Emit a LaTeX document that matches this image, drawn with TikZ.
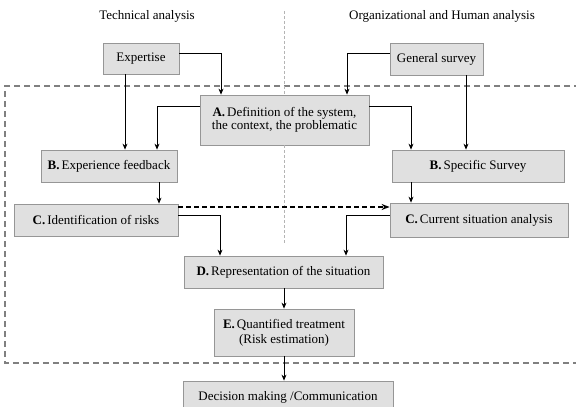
\documentclass[tikz,border=0pt]{standalone}
\usepackage{fontspec}
\setmainfont{Liberation Serif}
\usetikzlibrary{arrows.meta}
\definecolor{boxfill}{HTML}{E0E0E0}
\definecolor{boxborder}{HTML}{969696}
\definecolor{framegray}{HTML}{808080}
\definecolor{sepgray}{HTML}{B4B4B4}
\begin{document}
\begin{tikzpicture}[x=1pt,y=-1pt,
  box/.style={draw=boxborder, fill=boxfill, line width=0.8pt, inner sep=0pt, align=center, font=\fontsize{13}{13.5}\selectfont},
  title/.style={inner sep=0pt, font=\fontsize{13}{14}\selectfont},
  conn/.style={line width=0.7pt, -{Stealth[length=6pt,width=5pt]}},
  dconn/.style={line width=1.4pt, dash pattern=on 5pt off 3pt, -{Stealth[length=8pt,width=6pt]}},
  sep/.style={sepgray, line width=0.8pt, dash pattern=on 3pt off 2pt},
  frame/.style={framegray, line width=1.2pt, dash pattern=on 6pt off 4pt}
]
\useasboundingbox (0,0) rectangle (576,407);
\clip (0,0) rectangle (576,407);

% frame
\draw[frame] (590,86) -- (5,86) -- (5,363) -- (590,363);

% titles
\node[title] (t1) at (147,16) {Technical analysis};
\node[title] (t2) at (442,16) {Organizational and Human analysis};

% nodes
\node[box, minimum width=76pt, minimum height=31pt] (exp) at (141,58.5) {Expertise};
\node[box, minimum width=93pt, minimum height=32pt] (gen) at (436.5,59) {General survey};
\node[box, minimum width=169pt, minimum height=50pt] (A) at (284.5,120) {\textbf{A.}\hspace{2pt}Definition of the system,\\ the context, the problematic};
\node[box, minimum width=136pt, minimum height=32pt] (bexp) at (109,166) {\textbf{B.}\hspace{2pt}Experience feedback};
\node[box, minimum width=172pt, minimum height=32pt] (bspec) at (478,166) {\textbf{B.}\hspace{2pt}Specific Survey};
\node[box, minimum width=164pt, minimum height=32pt] (crisk) at (96,220) {\textbf{C.}\hspace{2pt}Identification of risks};
\node[box, minimum width=178pt, minimum height=34pt] (ccur) at (479,220) {\textbf{C.}\hspace{2pt}Current situation analysis};
\node[box, minimum width=199pt, minimum height=32pt] (D) at (283.5,272) {\textbf{D.}\hspace{2pt}Representation of the situation};
\node[box, minimum width=140pt, minimum height=47pt, font=\fontsize{13}{15}\selectfont] (E) at (284,332.5) {\textbf{E.}\hspace{2pt}Quantified treatment\\(Risk estimation)};
\node[box, minimum width=210pt, minimum height=32pt] (dec) at (288,397) {Decision making /Communication};

% separator
\draw[sep] (284,11) -- (A.north -| 284,0);
\draw[sep] (A.south -| 284,0) -- (284,243);

% connectors
\draw[conn] ([yshift=5.5pt]exp.east) -| ([xshift=-63.5pt]A.north);
\draw[conn] ([xshift=-16pt]exp.south) -- ([xshift=-16pt]exp.south |- bexp.north);
\draw[conn] ([yshift=14pt]A.west) -| ([xshift=48pt]bexp.north);
\draw[conn] ([yshift=6pt]gen.west) -| ([xshift=62.5pt]A.north);
\draw[conn] ([yshift=14pt]A.east) -| ([xshift=-67pt]bspec.north);
\draw[conn] ([xshift=29.5pt]gen.south) -- ([xshift=29.5pt]gen.south |- bspec.north);
\draw[conn] ([xshift=50pt]bexp.south) -- ([xshift=50pt]bexp.south |- crisk.north);
\draw[conn] ([xshift=-67pt]bspec.south) -- ([xshift=-67pt]bspec.south |- ccur.north);
\draw[dconn] ([yshift=13pt]crisk.east) -- ([yshift=13pt]crisk.east -| ccur.west);
\draw[conn] ([yshift=5pt]crisk.east) -| ([xshift=-63.5pt]D.north);
\draw[conn] ([yshift=5pt]ccur.west) -| ([xshift=62.5pt]D.north);
\draw[conn] (D.south -| 284,0) -- (E.north -| 284,0);
\draw[conn] (E.south -| 284,0) -- (dec.north -| 284,0);
\end{tikzpicture}
\end{document}
